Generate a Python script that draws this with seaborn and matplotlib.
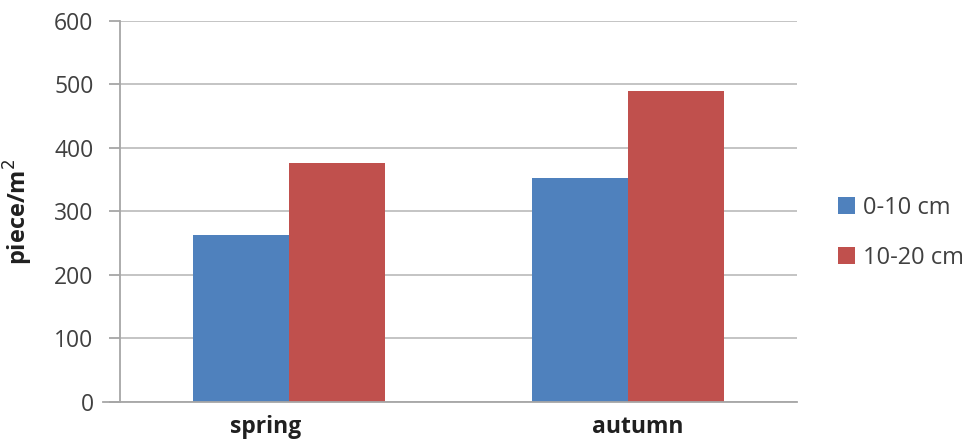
import matplotlib
matplotlib.use("Agg")
import matplotlib.pyplot as plt
import matplotlib.transforms as mtransforms
import seaborn as sns
import pandas as pd

seasons = ["spring", "autumn"]
depths = ["0-10 cm", "10-20 cm"]
values_0_10 = [263, 352]
values_10_20 = [376, 490]
y_ticks = [0, 100, 200, 300, 400, 500, 600]

df = pd.DataFrame({
    "season": seasons * 2,
    "depth": [depths[0]] * len(seasons) + [depths[1]] * len(seasons),
    "value": values_0_10 + values_10_20,
})

sns.set_theme(style="white")
plt.rcParams["font.family"] = ["Open Sans", "DejaVu Sans"]

fig = plt.figure(figsize=(9.77, 4.41), dpi=100)
ax = fig.add_axes([0.1228, 0.0884, 0.6929, 0.8646])

palette = {depths[0]: "#4F81BD", depths[1]: "#C0504D"}
sns.barplot(data=df, x="season", y="value", hue="depth", order=seasons,
            hue_order=depths, palette=palette, width=0.567, saturation=1,
            linewidth=0, ax=ax)

ax.set_ylim(0, 600)
ax.set_xlim(-0.5, 1.5)
ax.set_yticks(y_ticks)
ax.set_yticklabels([str(t) for t in y_ticks], fontsize=16.5, color="#404040")
ax.yaxis.grid(True, color="#BFBFBF", linewidth=1.3)
ax.set_axisbelow(True)

for side in ["top", "right"]:
    ax.spines[side].set_visible(False)
ax.spines["left"].set_color("#A6A6A6")
ax.spines["left"].set_linewidth(1.3)
ax.spines["bottom"].set_color("#A6A6A6")
ax.spines["bottom"].set_linewidth(1.3)
ax.spines["bottom"].set_bounds(-0.55, 1.5)

ax.tick_params(axis="y", which="major", left=True, length=8, width=1.3,
               color="#A6A6A6", pad=11)
ax.tick_params(axis="x", bottom=False, pad=3)
ax.set_xticks(range(len(seasons)))
ax.set_xticklabels(seasons, fontsize=16.5, fontweight="bold", color="#202020")

# nudge the category labels sideways (in points)
label_shift = [-17, 7]
for lbl, dx in zip(ax.get_xticklabels(), label_shift):
    lbl.set_transform(lbl.get_transform() +
                      mtransforms.ScaledTranslation(dx / 72, 0, fig.dpi_scale_trans))

ax.set_xlabel("")
ax.set_ylabel("piece/m$^2$", fontsize=17, fontweight="bold", color="#202020",
              labelpad=14)

handles, labels = ax.get_legend_handles_labels()
ax.legend(handles, labels, loc="center left", bbox_to_anchor=(1.029, 0.4445),
          frameon=False, fontsize=17, handlelength=0.72, handleheight=0.72,
          handletextpad=0.35, labelspacing=1.1, labelcolor="#404040")

fig.savefig("out.png", dpi=100)
